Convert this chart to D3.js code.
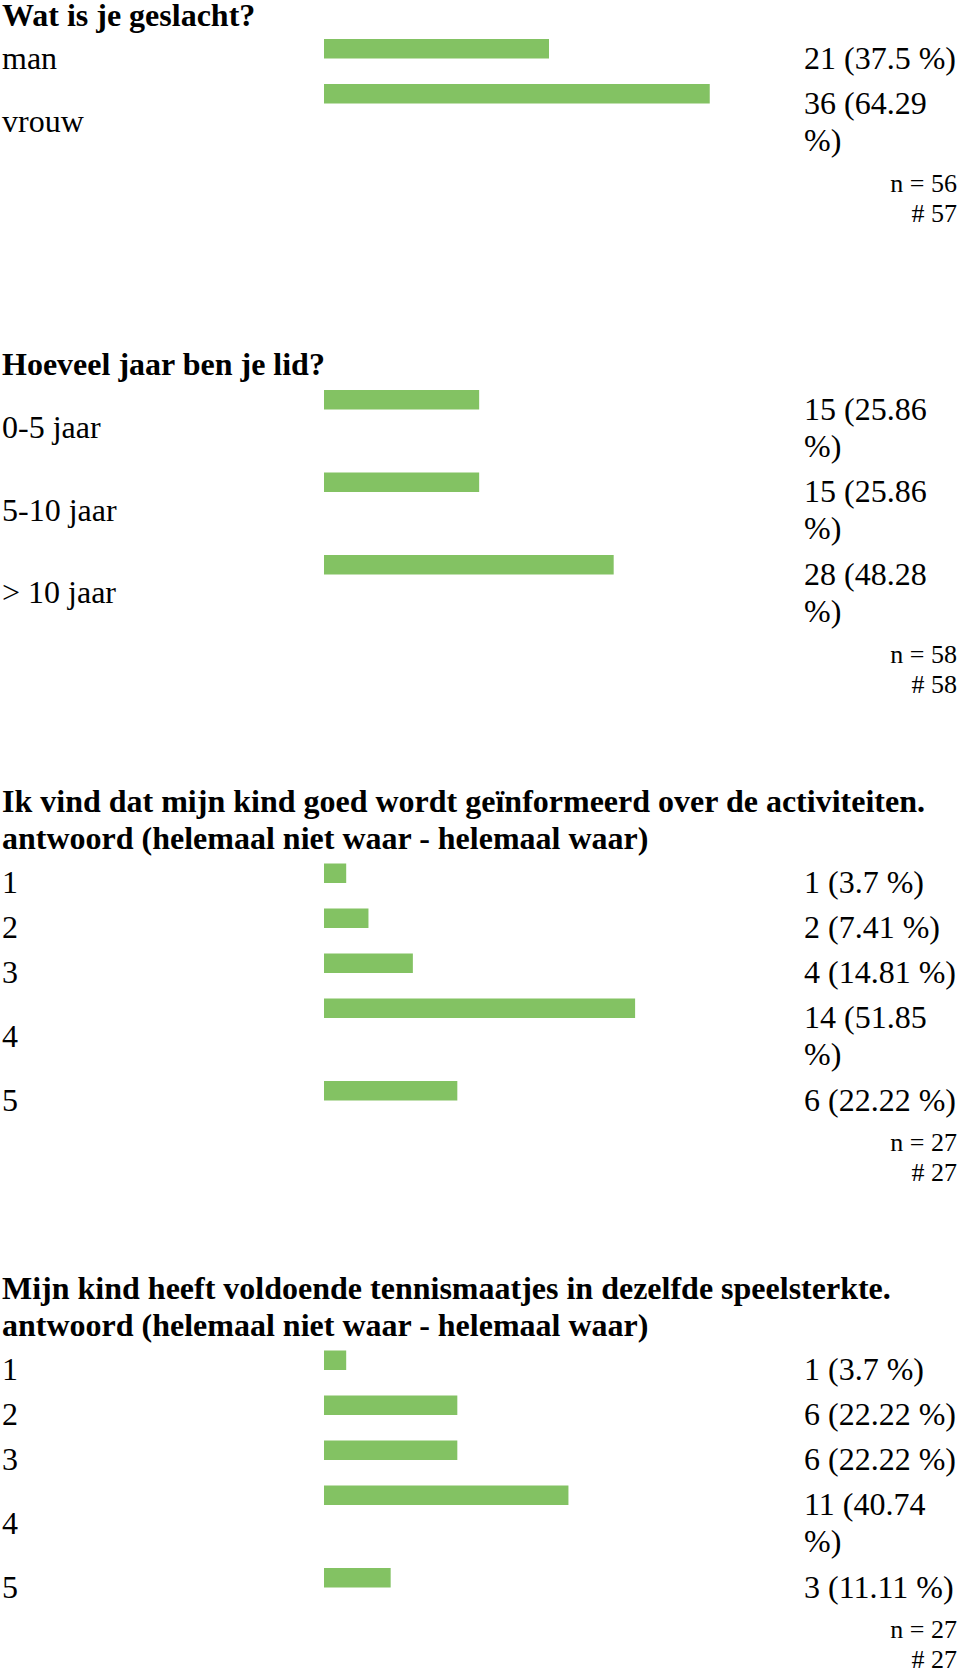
<!DOCTYPE html>
<html>
<head>
<meta charset="utf-8">
<script src="https://cdn.jsdelivr.net/npm/d3@7"></script>
<style>
  html, body { margin: 0; padding: 0; background: #fff; }
  svg { display: block; }
  text { font-family: "Liberation Serif", "Times New Roman", Times, serif; fill: #000; }
</style>
</head>
<body>
<svg id="chart" width="960" height="1672"></svg>
<script>
// ---- DATA ----
const q1Title = ["Wat is je geslacht?"];
const q1Categories = ["man", "vrouw"];
const q1Counts = [21, 36];
const q1Percents = [37.5, 64.29];
const q1N = 56, q1Total = 57;

const q2Title = ["Hoeveel jaar ben je lid?"];
const q2Categories = ["0-5 jaar", "5-10 jaar", "> 10 jaar"];
const q2Counts = [15, 15, 28];
const q2Percents = [25.86, 25.86, 48.28];
const q2N = 58, q2Total = 58;

const q3Title = ["Ik vind dat mijn kind goed wordt geïnformeerd over de activiteiten.",
                 "antwoord (helemaal niet waar - helemaal waar)"];
const q3Categories = ["1", "2", "3", "4", "5"];
const q3Counts = [1, 2, 4, 14, 6];
const q3Percents = [3.7, 7.41, 14.81, 51.85, 22.22];
const q3N = 27, q3Total = 27;

const q4Title = ["Mijn kind heeft voldoende tennismaatjes in dezelfde speelsterkte.",
                 "antwoord (helemaal niet waar - helemaal waar)"];
const q4Categories = ["1", "2", "3", "4", "5"];
const q4Counts = [1, 6, 6, 11, 3];
const q4Percents = [3.7, 22.22, 22.22, 40.74, 11.11];
const q4N = 27, q4Total = 27;

// ---- LAYOUT ----
const sections = [
  {title: q1Title, cats: q1Categories, counts: q1Counts, pcts: q1Percents, n: q1N, total: q1Total, top: 25.5, rowsGap: 13.5},
  {title: q2Title, cats: q2Categories, counts: q2Counts, pcts: q2Percents, n: q2N, total: q2Total, top: 375, rowsGap: 15},
  {title: q3Title, cats: q3Categories, counts: q3Counts, pcts: q3Percents, n: q3N, total: q3Total, top: 811.5, rowsGap: 15},
  {title: q4Title, cats: q4Categories, counts: q4Counts, pcts: q4Percents, n: q4N, total: q4Total, top: 1298.5, rowsGap: 15}
];

const FS = 32, NFS = 26;
const titleLH = 37, lineH = 37.5, rowBase = 45;
const barX0 = 324, barH = 19.5;
const valueX = 804, valueW = 156, rightX = 957;
const color = "#83c263";

const x = d3.scaleLinear().domain([0, 100]).range([0, 600]);

const svg = d3.select("#chart");
svg.append("rect").attr("width", 960).attr("height", 1672).attr("fill", "#fff");

function wrapLines(str, width, fs) {
  const words = str.split(" ");
  const tmp = svg.append("text").attr("font-size", fs).attr("x", -1000).attr("y", -1000);
  const lines = [];
  let cur = [];
  words.forEach(w => {
    const test = cur.concat([w]).join(" ");
    tmp.text(test);
    if (tmp.node().getComputedTextLength() > width && cur.length) {
      lines.push(cur.join(" "));
      cur = [w];
    } else {
      cur.push(w);
    }
  });
  if (cur.length) lines.push(cur.join(" "));
  tmp.remove();
  return lines;
}

sections.forEach(sec => {
  const g = svg.append("g");
  g.selectAll("text.title").data(sec.title).join("text")
    .attr("class", "title")
    .attr("x", 2)
    .attr("y", (d, i) => sec.top + i * titleLH)
    .attr("font-size", FS)
    .attr("font-weight", "bold")
    .text(d => d);

  const rowsStart = sec.top + (sec.title.length - 1) * titleLH + sec.rowsGap;

  const rows = sec.cats.map((c, i) => {
    const label = `${sec.counts[i]} (${sec.pcts[i]} %)`;
    const lines = wrapLines(label, valueW, FS);
    return {cat: c, pct: sec.pcts[i], lines, h: rowBase + (lines.length - 1) * lineH};
  });
  const offsets = [];
  let acc = 0;
  rows.forEach(r => { offsets.push(acc); acc += r.h; });
  const y = d3.scaleOrdinal().domain(sec.cats).range(offsets.map(o => rowsStart + o));

  const rg = g.selectAll("g.row").data(rows).join("g")
    .attr("class", "row")
    .attr("transform", d => `translate(0,${y(d.cat)})`);

  rg.append("rect")
    .attr("x", barX0)
    .attr("y", 0)
    .attr("width", d => x(d.pct))
    .attr("height", barH)
    .attr("fill", color);

  rg.append("text")
    .attr("x", 2)
    .attr("y", d => d.h / 2 + 7)
    .attr("font-size", FS)
    .text(d => d.cat);

  rg.each(function(d) {
    d3.select(this).selectAll("text.val").data(d.lines).join("text")
      .attr("class", "val")
      .attr("x", valueX)
      .attr("y", (l, i) => 29.5 + i * 37)
      .attr("font-size", FS)
      .text(l => l);
  });

  const end = rowsStart + acc;
  g.append("text").attr("x", rightX).attr("y", end + 25)
    .attr("text-anchor", "end").attr("font-size", NFS).text(`n = ${sec.n}`);
  g.append("text").attr("x", rightX).attr("y", end + 55)
    .attr("text-anchor", "end").attr("font-size", NFS).text(`# ${sec.total}`);
});
</script>
</body>
</html>
